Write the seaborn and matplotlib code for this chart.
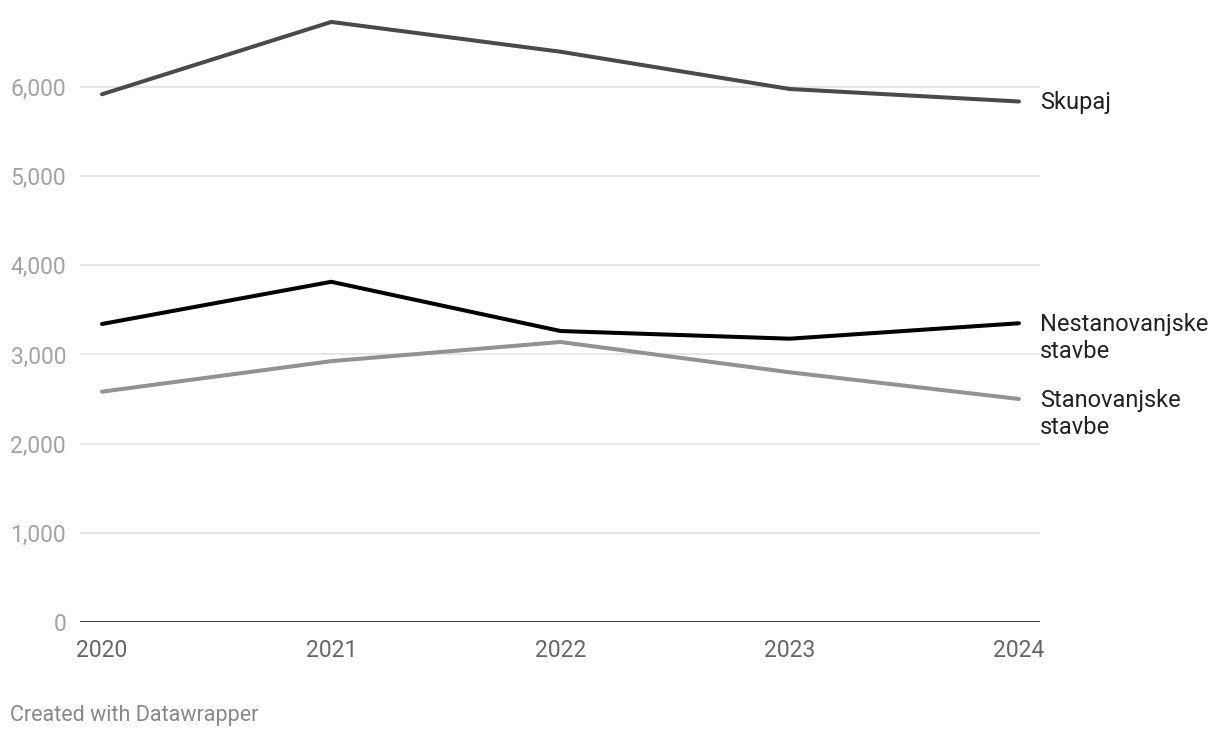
import seaborn as sns
import matplotlib.pyplot as plt
import pandas as pd

years = [2020, 2021, 2022, 2023, 2024]
skupaj = [5918, 6729, 6395, 5977, 5837]
nestanovanjske = [3342, 3815, 3263, 3177, 3350]
stanovanjske = [2583, 2925, 3140, 2800, 2501]

series_names = ['Skupaj', 'Nestanovanjske\nstavbe', 'Stanovanjske\nstavbe']
series_colors = ['#4a4a4a', '#000000', '#929292']
y_ticks = [0, 1000, 2000, 3000, 4000, 5000, 6000]

df = pd.DataFrame({
    'year': years * 3,
    'value': skupaj + nestanovanjske + stanovanjske,
    'series': [series_names[0]] * 5 + [series_names[1]] * 5 + [series_names[2]] * 5,
})

sns.set_style('white')
plt.rcParams['font.family'] = ['Roboto', 'DejaVu Sans']

fig = plt.figure(figsize=(12.2, 7.38), dpi=100)
ax = fig.add_axes([80 / 1220, 116 / 738, 960 / 1220, 622 / 738])

sns.lineplot(data=df, x='year', y='value', hue='series', palette=series_colors,
             hue_order=series_names, linewidth=2.9, legend=False, ax=ax)

ax.set_xlim(2019.904, 2024.092)
ax.set_ylim(0, 6975)
ax.set_xticks(years)
ax.set_xticklabels([str(y) for y in years])
ax.set_yticks(y_ticks)
ax.set_yticklabels(['{:,}'.format(t) for t in y_ticks])
ax.set_xlabel('')
ax.set_ylabel('')

for t in y_ticks[1:]:
    ax.axhline(t, color='#e2e2e2', linewidth=1.2, zorder=0)
ax.axhline(0, color='#111111', linewidth=1.9, zorder=3)

for s in ax.spines.values():
    s.set_visible(False)
ax.tick_params(axis='y', length=0, pad=10, labelsize=16.5, labelcolor='#a3a3a3')
ax.tick_params(axis='x', length=0, pad=12, labelsize=16.5, labelcolor='#666666')

last_vals = [skupaj[-1], nestanovanjske[-1], stanovanjske[-1]]
for name, val in zip(series_names, last_vals):
    ax.annotate(name, xy=(years[-1], val), xytext=(21, 10), textcoords='offset pixels',
                va='top', ha='left', fontsize=17, color='#222222', annotation_clip=False)

fig.text(10 / 1220, 1 - 715 / 738, 'Created with Datawrapper', fontsize=15.5,
         color='#888888', va='center', ha='left')

fig.savefig('out.png', dpi=100)
